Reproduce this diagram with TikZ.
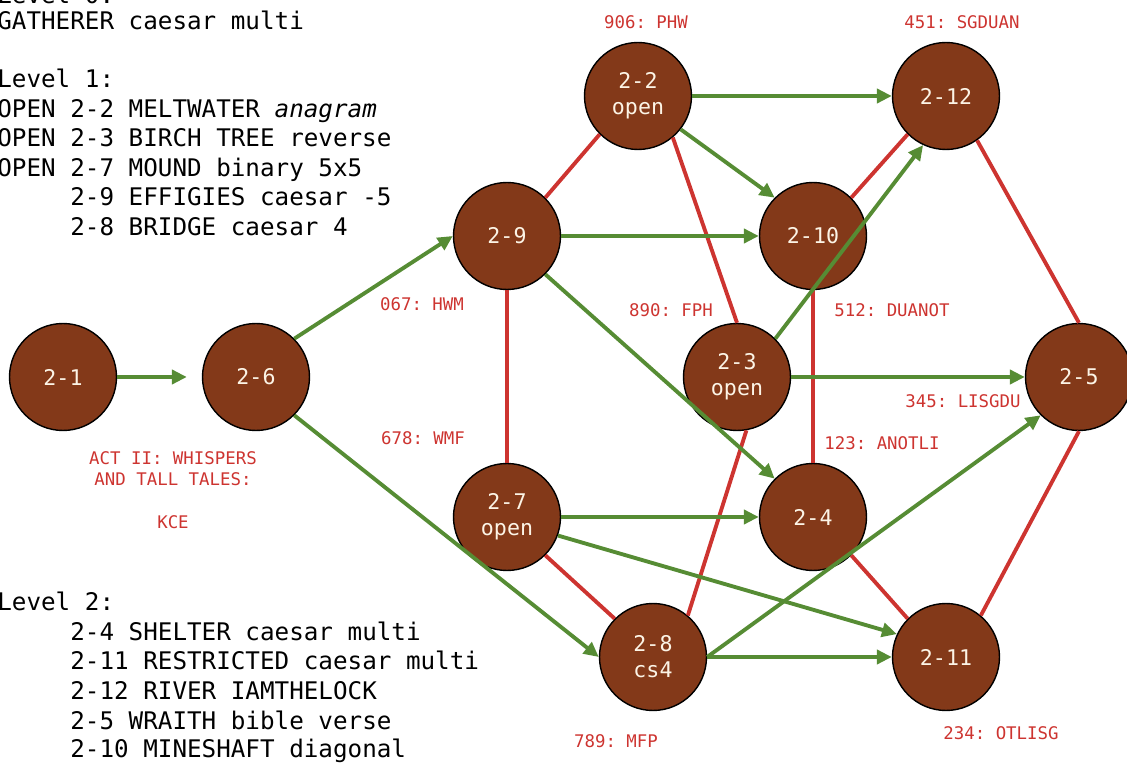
\documentclass[tikz,border=0pt]{standalone}
\usepackage{fontspec}
\setmonofont{DejaVu Sans Mono}
\usetikzlibrary{arrows.meta}
\definecolor{puzbrown}{RGB}{131,57,25}
\definecolor{puzgreen}{RGB}{86,140,52}
\definecolor{puzred}{RGB}{205,52,48}
\definecolor{puztext}{RGB}{252,244,230}
\tikzset{
    puzzle/.style = {circle, draw=black, line width=0.8pt, fill=puzbrown, text=puztext, align=center, minimum size=2.14cm, inner sep=0pt, font=\ttfamily\fontsize{12.3}{14.7}\selectfont},
    edgeg/.style = {-{Triangle[length=8.5pt,width=8pt]}, line width=2.2pt, draw=puzgreen}, % unlocks
    edger/.style = {line width=2.2pt, draw=puzred}, % links
    code/.style = {text=puzred, align=center, font=\ttfamily\fontsize{9.9}{11.9}\selectfont},
    note/.style = {anchor=base west, inner sep=0pt, font=\ttfamily\fontsize{13.8}{16.5}\selectfont}
}
\begin{document}
\begin{tikzpicture}[x=0.02cm, y=-0.02cm]
  \useasboundingbox (0,0) rectangle (1127,763);

\node[note] (l0) at (-3,4) {Level 0:};
\node[note] (l1) at (-3,30) {GATHERER caesar multi};
\node[note] (l2) at (-3,88) {Level 1:};
\node[note] (l3) at (-3,117.5) {OPEN 2-2 MELTWATER \textit{anagram}};
\node[note] (l4) at (-3,147) {OPEN 2-3 BIRCH TREE reverse};
\node[note] (l5) at (-3,176.5) {OPEN 2-7 MOUND binary 5x5};
\node[note] (l6) at (-3,206) {\phantom{OPEN }2-9 EFFIGIES caesar -5};
\node[note] (l7) at (-3,235.5) {\phantom{OPEN }2-8 BRIDGE caesar 4};

\node[note] (m0) at (-3,611) {Level 2:};
\node[note] (m1) at (-3,640.5) {\phantom{OPEN }2-4 SHELTER caesar multi};
\node[note] (m2) at (-3,670) {\phantom{OPEN }2-11 RESTRICTED caesar multi};
\node[note] (m3) at (-3,699.5) {\phantom{OPEN }2-12 RIVER IAMTHELOCK};
\node[note] (m4) at (-3,729) {\phantom{OPEN }2-5 WRAITH bible verse};
\node[note] (m5) at (-3,758) {\phantom{OPEN }2-10 MINESHAFT diagonal};

\node[puzzle] (p21) at (63,377) {2-1};
\node[puzzle] (p26) at (256,377) {2-6};
\node[puzzle] (p29) at (507,236) {2-9};
\node[puzzle] (p22) at (638,96) {2-2\\open};
\node[puzzle] (p212) at (946,96) {2-12};
\node[puzzle] (p210) at (813,236) {2-10};
\node[puzzle] (p23) at (737,377) {2-3\\open};
\node[puzzle] (p25) at (1079,377) {2-5};
\node[puzzle] (p27) at (507,517) {2-7\\open};
\node[puzzle] (p24) at (813,517) {2-4};
\node[puzzle] (p28) at (653,657) {2-8\\cs4};
\node[puzzle] (p211) at (946,657) {2-11};

\node[code] (c906) at (646,22) {906: PHW};
\node[code] (c451) at (962,22) {451: SGDUAN};
\node[code] (c067) at (422,304) {067: HWM};
\node[code] (c890) at (671,310) {890: FPH};
\node[code] (c512) at (892,310) {512: DUANOT};
\node[code] (c345) at (963,401) {345: LISGDU};
\node[code] (c123) at (882,443) {123: ANOTLI};
\node[code] (c678) at (423,438) {678: WMF};
\node[code] (act) at (173,469) {ACT II: WHISPERS\\AND TALL TALES:};
\node[code] (kce) at (173,522) {KCE};
\node[code] (c789) at (616,741) {789: MFP};
\node[code] (c234) at (1001,733) {234: OTLISG};

\draw[edger] (p29.45) -- (p22.-135);
\draw[edger] (p29) -- (p27);
\draw[edger] (p22.-50) -- (p23.north);
\draw[edger] (p210.45) -- (p212.-135);
\draw[edger] (p210) -- (p24);
\draw[edger] (p212.-55) -- (p25.north);
\draw[edger] (p23.-80) -- (p28.50);
\draw[edger] (p27.-45) -- (p28.135);
\draw[edger] (p24.-45) -- (p211.135);
\draw[edger] (p211.50) -- (p25.south);

\draw[edgeg, shorten >=0.3cm] (p21) -- (p26);
\draw[edgeg] (p26.45) -- (p29.west);
\draw[edgeg] (p26.-45) -- (p28.west);
\draw[edgeg] (p29) -- (p210);
\draw[edgeg] (p29.-45) -- (p24.135);
\draw[edgeg] (p22) -- (p212);
\draw[edgeg] (p22.-38) -- (p210.135);
\draw[edgeg] (p23.45) -- (p212.-115);
\draw[edgeg] (p23) -- (p25);
\draw[edgeg] (p27) -- (p24);
\draw[edgeg] (p27.-20) -- (p211.155);
\draw[edgeg] (p28) -- (p211);
\draw[edgeg] (p28.east) -- (p25.-135);

\end{tikzpicture}
\end{document}
